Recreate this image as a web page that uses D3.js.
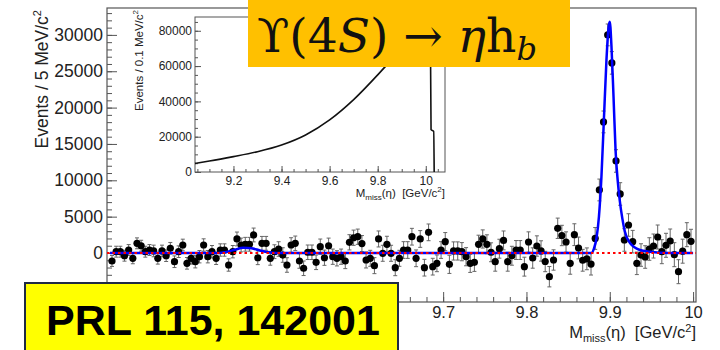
<!DOCTYPE html>
<html>
<head>
<meta charset="utf-8">
<script src="https://cdn.jsdelivr.net/npm/d3@7"></script>
<style>
body { margin: 0; background: #fff; }
svg { display: block; font-family: "Liberation Sans", Arial, sans-serif; }
</style>
</head>
<body>
<svg id="chart" width="720" height="350"></svg>
<script>
// histogram: 5 MeV bins starting at 9.300
var binLow = 9.300;
var binWidth = 0.005;
var events = [
  -1100, 180, 180, -370, 410, -730, 1330, 1000, 180, 410,
  280, -730, 280, -370, 650, -1200, 180, 1100, -1420, -730,
  -1200, -510, 1100, -510, 180, -730, 410, 410, -1650, 180,
  1930, 1100, 1200, 1200, 2480, -650, 1330, 1330, -730, 180,
  550, -280, -1650, 1100, 1330, -1100, -2100, 100, 100, -1280,
  870, -650, 1000, -510, -730, -510, -1100, 1470, 2100, 2240,
  1300, -960, -730, -1740, 1930, -40, 1200, -40, -2020, -730,
  410, 410, 2240, -730, 1930, -2020, 2840, -1880, -1420, 410,
  1560, -1560, 280, 280, 180, -510, -1420, -1280, 1200, 1930,
  1200, 100, -1200, 590, 1730, -1200, -380, 410, 410, -1880,
  1510, -690, 960, 280, -1170, -3260, -960, 3400, 2410, 1510,
  -1420, 2520, 690, -1000, -800, -1530, 2000, 8670, 18030, 30000,
  26150, 12660, 8120, 1790, 3850, 1560, -1420, -280, -550, 550,
  960, 2200, 180, 1060, 1650, -230, -2570, 250, 2520, 1610
];
var errors = [
  750, 750, 750, 750, 750, 750, 750, 750, 750, 750,
  800, 800, 800, 800, 800, 800, 800, 800, 800, 800,
  850, 850, 850, 850, 850, 850, 850, 850, 850, 850,
  950, 950, 950, 950, 950, 950, 950, 950, 950, 950,
  1000, 1000, 1000, 1000, 1000, 1000, 1000, 1000, 1000, 1000,
  1050, 1050, 1050, 1050, 1050, 1050, 1050, 1050, 1050, 1050,
  1100, 1100, 1100, 1100, 1100, 1100, 1100, 1100, 1100, 1100,
  1150, 1150, 1150, 1150, 1150, 1150, 1150, 1150, 1150, 1150,
  1250, 1250, 1250, 1250, 1250, 1250, 1250, 1250, 1250, 1250,
  1300, 1300, 1300, 1300, 1300, 1300, 1300, 1300, 1300, 1300,
  1400, 1400, 1400, 1400, 1400, 1400, 1400, 1400, 1400, 1400,
  1500, 1500, 1500, 1500, 1500, 1500, 1500, 1500, 1500, 1500,
  1550, 1550, 1550, 1550, 1550, 1550, 1550, 1550, 1550, 1550,
  1650, 1650, 1650, 1650, 1650, 1650, 1650, 1650, 1650, 1650
];

// fit (signal + background)
var fitMass = [9.300, 9.430, 9.440, 9.450, 9.460, 9.470, 9.480, 9.490, 9.500,
  9.8779, 9.8810, 9.8840, 9.8870, 9.8900, 9.8930, 9.8960, 9.8985, 9.9000,
  9.9020, 9.9045, 9.9070, 9.9095, 9.9120, 9.9150, 9.9180, 9.9241, 9.9361,
  9.9481, 9.9721, 10.000];
var fitEvents = [0, 0, 150, 450, 720, 650, 350, 100, 0,
  0, 600, 2000, 5000, 10500, 18500, 26500, 31000, 31800,
  28500, 21500, 14000, 10000, 7200, 4800, 3000, 1400, 420,
  180, 0, 0];
var bgMass = [9.2965, 10.0035];
var bgEvents = [0, 0];

// inset: full missing mass spectrum
var insetMass = [9.04, 9.10, 9.20, 9.30, 9.40, 9.50, 9.60, 9.70, 9.80, 9.85,
  9.90, 9.95, 10.00, 10.020, 10.022, 10.033, 10.035];
var insetEvents = [4900, 6200, 8700, 11500, 15300, 21000, 29500, 41000, 55000, 62500,
  70000, 77000, 82000, 62000, 24000, 23000, 0];

// tick positions; only some carry labels (the rest sit under the boxes)
var yTicks = [-5000, 0, 5000, 10000, 15000, 20000, 25000, 30000];
var yTickLabels = [0, 5000, 10000, 15000, 20000, 25000, 30000];
var xTicks = [9.3, 9.4, 9.5, 9.6, 9.7, 9.8, 9.9, 10];
var xTickLabels = [9.7, 9.8, 9.9, 10];
var insetYTicks = [0, 20000, 40000, 60000, 80000];
var insetXTicks = [9.2, 9.4, 9.6, 9.8, 10];

var svg = d3.select("#chart");
var axisColor = "#555";
var textColor = "#222";

var x = d3.scaleLinear().domain([9.2965, 10.0035]).range([107, 696]);
var y = d3.scaleLinear().domain([-6740, 33700]).range([302, 8]);

// frame
svg.append("rect")
  .attr("x", 107).attr("y", 8)
  .attr("width", 696 - 107).attr("height", 302 - 8)
  .attr("fill", "none").attr("stroke", axisColor).attr("stroke-width", 1.2);

// y axis
var yMinor = svg.append("g").attr("transform", "translate(107,0)")
  .call(d3.axisLeft(y).ticks(40).tickSize(-5).tickFormat(""));
var yMajor = svg.append("g").attr("transform", "translate(107,0)")
  .call(d3.axisLeft(y).tickValues(yTicks).tickSize(-10).tickFormat(""));
var yLab = svg.append("g").attr("transform", "translate(107,0)")
  .call(d3.axisLeft(y).tickValues(yTickLabels).tickSize(0).tickPadding(4)
    .tickFormat(d3.format("d")));

// x axis
var xMinor = svg.append("g").attr("transform", "translate(0,302)")
  .call(d3.axisBottom(x).ticks(35).tickSize(-5).tickFormat(""));
var xMajor = svg.append("g").attr("transform", "translate(0,302)")
  .call(d3.axisBottom(x).tickValues(xTicks).tickSize(-10).tickFormat(""));
var xLab = svg.append("g").attr("transform", "translate(0,302)")
  .call(d3.axisBottom(x).tickValues(xTickLabels).tickSize(0).tickPadding(4)
    .tickFormat(d3.format("~g")));

[yMinor, yMajor, yLab, xMinor, xMajor, xLab].forEach(function (g) {
  g.select(".domain").remove();
  g.selectAll("line").attr("stroke", axisColor);
  g.selectAll("text").attr("fill", textColor)
    .attr("font-family", "Liberation Sans, Arial, sans-serif");
});
yLab.selectAll("text").attr("font-size", 17.5);
xLab.selectAll("text").attr("font-size", 16.5);

// axis titles
var yTitle = svg.append("text")
  .attr("transform", "translate(48,10) rotate(-90)")
  .attr("text-anchor", "end")
  .attr("font-size", 17.5)
  .attr("fill", textColor);
yTitle.append("tspan").text("Events / 5 MeV/c");
yTitle.append("tspan").attr("font-size", 11).attr("dy", -7).text("2");

var xTitle = svg.append("text")
  .attr("x", 696).attr("y", 338)
  .attr("text-anchor", "end")
  .attr("font-size", 16.5)
  .attr("fill", textColor);
xTitle.append("tspan").text("M");
xTitle.append("tspan").attr("font-size", 11).attr("dy", 4).text("miss");
xTitle.append("tspan").attr("dy", -4).text("(\u03b7)\u00a0\u00a0[GeV/c");
xTitle.append("tspan").attr("font-size", 11).attr("dy", -6).text("2");
xTitle.append("tspan").attr("dy", 6).text("]");

// data points with error bars
var bins = events.map(function (v, i) {
  return { m: binLow + (i + 0.5) * binWidth, v: v, e: errors[i] };
});

var pts = svg.append("g");
pts.selectAll(".err")
  .data(bins).enter().append("line")
  .attr("x1", d => x(d.m)).attr("x2", d => x(d.m))
  .attr("y1", d => y(d.v - d.e)).attr("y2", d => y(d.v + d.e))
  .attr("stroke", "#666").attr("stroke-width", 1);
pts.selectAll(".capTop")
  .data(bins).enter().append("line")
  .attr("x1", d => x(d.m) - 2).attr("x2", d => x(d.m) + 2)
  .attr("y1", d => y(d.v + d.e)).attr("y2", d => y(d.v + d.e))
  .attr("stroke", "#666").attr("stroke-width", 1);
pts.selectAll(".capBot")
  .data(bins).enter().append("line")
  .attr("x1", d => x(d.m) - 2).attr("x2", d => x(d.m) + 2)
  .attr("y1", d => y(d.v - d.e)).attr("y2", d => y(d.v - d.e))
  .attr("stroke", "#666").attr("stroke-width", 1);
pts.selectAll("circle")
  .data(bins).enter().append("circle")
  .attr("cx", d => x(d.m)).attr("cy", d => y(d.v))
  .attr("r", 3.6).attr("fill", "#000");

// fit curves
var line = d3.line()
  .x(d => x(d[0])).y(d => y(d[1]))
  .curve(d3.curveMonotoneX);

svg.append("path")
  .datum(d3.zip(fitMass, fitEvents))
  .attr("d", line)
  .attr("fill", "none").attr("stroke", "#0000ff").attr("stroke-width", 2.5);

svg.append("path")
  .datum(d3.zip(bgMass, bgEvents))
  .attr("d", line)
  .attr("fill", "none").attr("stroke", "#ff0000").attr("stroke-width", 2.2)
  .attr("stroke-dasharray", "2.5,3");

// inset
var ix = d3.scaleLinear().domain([9.04, 10.08]).range([195, 445]);
var iy = d3.scaleLinear().domain([0, 87800]).range([172, 17]);

svg.append("rect")
  .attr("x", 195).attr("y", 17)
  .attr("width", 445 - 195).attr("height", 172 - 17)
  .attr("fill", "#fff").attr("stroke", axisColor).attr("stroke-width", 1);

var iyMinor = svg.append("g").attr("transform", "translate(195,0)")
  .call(d3.axisLeft(iy).ticks(17).tickSize(-3).tickFormat(""));
var iyMajor = svg.append("g").attr("transform", "translate(195,0)")
  .call(d3.axisLeft(iy).tickValues(insetYTicks).tickSize(-6).tickPadding(3)
    .tickFormat(d3.format("d")));
var ixMinor = svg.append("g").attr("transform", "translate(0,172)")
  .call(d3.axisBottom(ix).ticks(20).tickSize(-3).tickFormat(""));
var ixMajor = svg.append("g").attr("transform", "translate(0,172)")
  .call(d3.axisBottom(ix).tickValues(insetXTicks).tickSize(-6).tickPadding(4)
    .tickFormat(d3.format("~g")));

[iyMinor, iyMajor, ixMinor, ixMajor].forEach(function (g) {
  g.select(".domain").remove();
  g.selectAll("line").attr("stroke", axisColor);
  g.selectAll("text").attr("fill", textColor).attr("font-size", 12)
    .attr("font-family", "Liberation Sans, Arial, sans-serif");
});

svg.append("path")
  .datum(d3.zip(insetMass, insetEvents))
  .attr("d", d3.line().x(d => ix(d[0])).y(d => iy(d[1])).curve(d3.curveMonotoneX))
  .attr("fill", "none").attr("stroke", "#111").attr("stroke-width", 1.6);

var iyTitle = svg.append("text")
  .attr("transform", "translate(143,10) rotate(-90)")
  .attr("text-anchor", "end")
  .attr("font-size", 11.5)
  .attr("fill", textColor);
iyTitle.append("tspan").text("Events / 0.1 MeV/c");
iyTitle.append("tspan").attr("font-size", 8).attr("dy", -5).text("2");

var ixTitle = svg.append("text")
  .attr("x", 445).attr("y", 197)
  .attr("text-anchor", "end")
  .attr("font-size", 11.5)
  .attr("fill", textColor);
ixTitle.append("tspan").text("M");
ixTitle.append("tspan").attr("font-size", 8).attr("dy", 3).text("miss");
ixTitle.append("tspan").attr("dy", -3).text("(\u03b7)\u00a0\u00a0[GeV/c");
ixTitle.append("tspan").attr("font-size", 8).attr("dy", -5).text("2");
ixTitle.append("tspan").attr("dy", 5).text("]");

// decay label box
svg.append("rect")
  .attr("x", 248).attr("y", 0)
  .attr("width", 322).attr("height", 67)
  .attr("fill", "#ffc000");

var decay = svg.append("text")
  .attr("x", 257).attr("y", 52)
  .attr("font-family", "DejaVu Serif, Liberation Serif, serif")
  .attr("font-size", 44)
  .attr("fill", "#111");
decay.append("tspan").text("\u03d2(4");
decay.append("tspan").attr("font-style", "italic").text("S");
decay.append("tspan").text(") \u2192 ");
decay.append("tspan").attr("font-style", "italic").text("\u03b7");
decay.append("tspan").text("h");
decay.append("tspan").attr("font-style", "italic").attr("font-size", 30).attr("dy", 8).text("b");
var w = decay.node().getComputedTextLength();
decay.attr("font-size", 44 * 280 / w);
decay.select("tspan:last-child").attr("font-size", 30 * 280 / w);

// reference box
svg.append("rect")
  .attr("x", 25).attr("y", 283)
  .attr("width", 373).attr("height", 90)
  .attr("fill", "#ffff00").attr("stroke", "#1f2a44").attr("stroke-width", 2);

svg.append("text")
  .attr("x", 46).attr("y", 335)
  .attr("font-size", 43)
  .attr("font-weight", "bold")
  .attr("fill", "#000")
  .text("PRL 115, 142001");
</script>
</body>
</html>
